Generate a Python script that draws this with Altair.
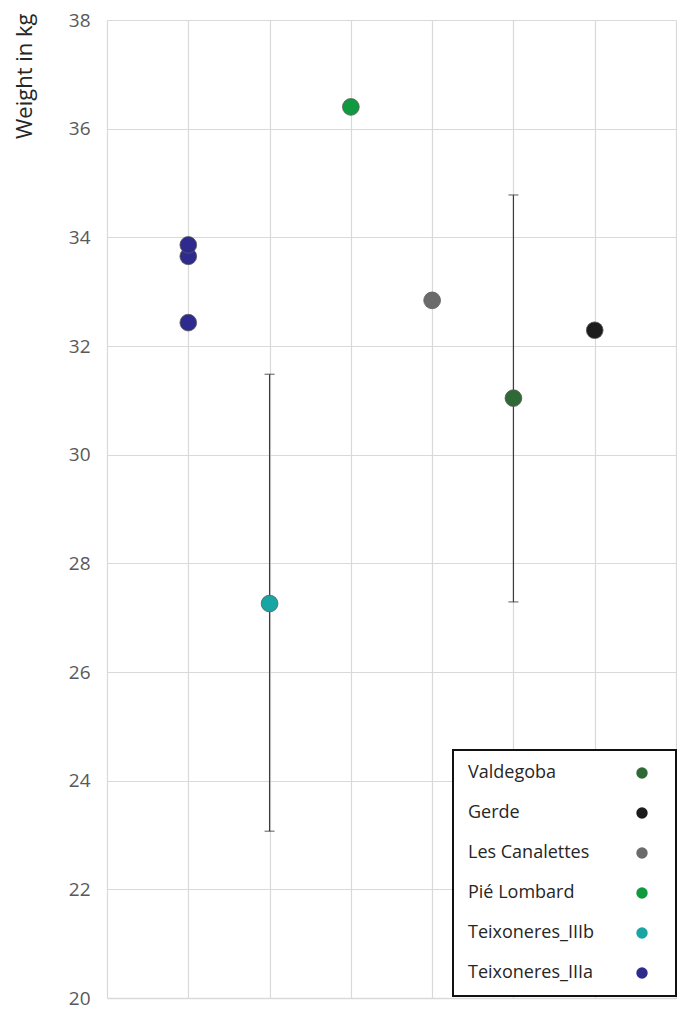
import altair as alt
import pandas as pd

# ---- data ----
sites = ["Teixoneres_IIIa", "Teixoneres_IIIa", "Teixoneres_IIIa",
         "Teixoneres_IIIb", "Pié Lombard", "Les Canalettes", "Valdegoba", "Gerde"]
positions = [1, 1, 1, 2, 3, 4, 5, 6]
weights = [32.43, 33.65, 33.86, 27.26, 36.40, 32.84, 31.04, 32.29]

err_sites = ["Teixoneres_IIIb", "Valdegoba"]
err_pos = [2, 5]
err_low = [23.07, 27.29]
err_high = [31.48, 34.78]

legend_order = ["Valdegoba", "Gerde", "Les Canalettes", "Pié Lombard",
                "Teixoneres_IIIb", "Teixoneres_IIIa"]
legend_colors = ["#2f6a36", "#1c1c1c", "#6b6b6b", "#0f9a40", "#1aa5a5", "#2e2a8e"]

y_ticks = [20, 22, 24, 26, 28, 30, 32, 34, 36, 38]
x_grid = [0, 1, 2, 3, 4, 5, 6, 7]

pts = pd.DataFrame({"site": sites, "pos": positions, "weight": weights})
errs = pd.DataFrame({"site": err_sites, "pos": err_pos, "low": err_low, "high": err_high})

FONT = "Open Sans"
GRID = "#d9d9d9"

x_enc = alt.X("pos:Q", scale=alt.Scale(domain=[0, 7], nice=False, zero=False),
              axis=alt.Axis(values=x_grid, labels=False, ticks=False, title=None,
                            grid=True, gridColor=GRID, gridWidth=1.2,
                            domain=True, domainColor=GRID, domainWidth=1.5))
y_scale = alt.Scale(domain=[20, 38], nice=False, zero=False)

rules = alt.Chart(errs).mark_rule(color="#3c3c3c", strokeWidth=1.2).encode(
    x=x_enc,
    y=alt.Y("low:Q", scale=y_scale),
    y2="high:Q",
)
cap_lo = alt.Chart(errs).mark_tick(color="#3c3c3c", orient="horizontal", size=10, thickness=1.2).encode(
    x="pos:Q", y=alt.Y("low:Q", scale=y_scale))
cap_hi = alt.Chart(errs).mark_tick(color="#3c3c3c", orient="horizontal", size=10, thickness=1.2).encode(
    x="pos:Q", y=alt.Y("high:Q", scale=y_scale))

points = alt.Chart(pts).mark_point(filled=True, size=280, opacity=1,
                                    stroke="#5a5a5a", strokeWidth=0.8).encode(
    x="pos:Q",
    y=alt.Y("weight:Q", scale=y_scale,
            axis=alt.Axis(values=y_ticks, title="Weight in kg", ticks=False, domain=False,
                          grid=True, gridColor=GRID, gridWidth=1.2,
                          labelFont=FONT, labelFontSize=19, labelColor="#595959",
                          labelPadding=17,
                          titleFont=FONT, titleFontSize=22, titleFontWeight="normal",
                          titleColor="#262626", titleAngle=270, titleAlign="right",
                          titleBaseline="bottom", titleX=-71, titleY=-7)),
    color=alt.Color("site:N",
                    scale=alt.Scale(domain=legend_order, range=legend_colors),
                    legend=alt.Legend(title="\u00a0", titleOrient="right", titlePadding=14,
                                      titleFont=FONT, titleFontSize=18,
                                      orient="none", legendX=346, legendY=730,
                                      labelFont=FONT, labelFontSize=18, labelColor="#262626",
                                      symbolType="circle", symbolSize=130,
                                      symbolOffset=166, labelOffset={"expr": "-183"},
                                      symbolStrokeWidth=0,
                                      rowPadding=22, padding=14,
                                      strokeColor="#111111", fillColor="#ffffff")),
    order=alt.Order("weight:Q"),
)

chart = alt.layer(rules, cap_lo, cap_hi, points).properties(
    width=569, height=978,
    autosize=alt.AutoSizeParams(type="none"),
    padding={"left": 99, "top": 12, "right": 1, "bottom": 12},
).configure_view(strokeWidth=0).configure_legend(strokeWidth=2)

chart.save("out.html", embed_options={"renderer": "svg", "actions": False})
